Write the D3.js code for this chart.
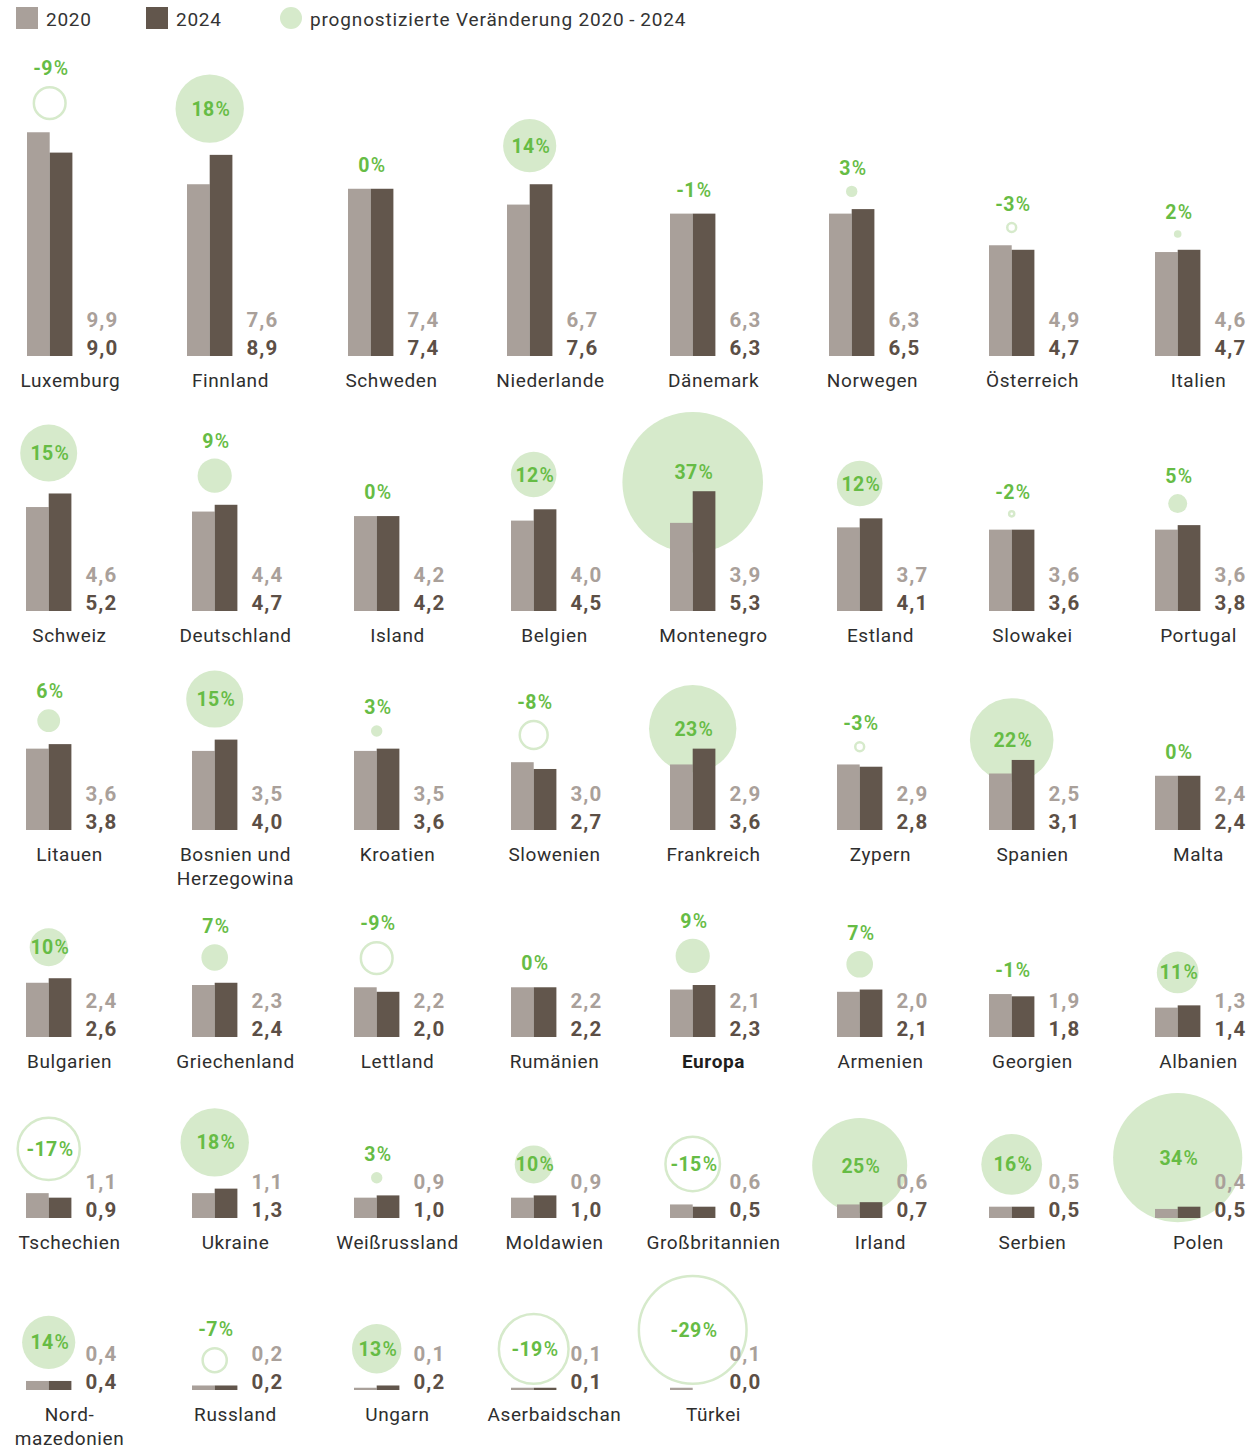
<!DOCTYPE html>
<html>
<head>
<meta charset="utf-8">
<script src="https://cdn.jsdelivr.net/npm/d3@7"></script>
<style>
  body { margin: 0; background: #fff; }
  svg { display: block; font-family: Roboto, "Noto Sans", sans-serif; }
</style>
</head>
<body>
<svg id="chart" width="1249" height="1451"></svg>
<script>
// Countries in reading order, eight per row; "\n" marks a line break in the name
const countries = [
  "Luxemburg", "Finnland", "Schweden", "Niederlande", "Dänemark", "Norwegen", "Österreich", "Italien",
  "Schweiz", "Deutschland", "Island", "Belgien", "Montenegro", "Estland", "Slowakei", "Portugal",
  "Litauen", "Bosnien und\nHerzegowina", "Kroatien", "Slowenien", "Frankreich", "Zypern", "Spanien", "Malta",
  "Bulgarien", "Griechenland", "Lettland", "Rumänien", "Europa", "Armenien", "Georgien", "Albanien",
  "Tschechien", "Ukraine", "Weißrussland", "Moldawien", "Großbritannien", "Irland", "Serbien", "Polen",
  "Nord-\nmazedonien", "Russland", "Ungarn", "Aserbaidschan", "Türkei"
];
const values2020 = [
  9.9, 7.6, 7.4, 6.7, 6.3, 6.3, 4.9, 4.6,
  4.6, 4.4, 4.2, 4.0, 3.9, 3.7, 3.6, 3.6,
  3.6, 3.5, 3.5, 3.0, 2.9, 2.9, 2.5, 2.4,
  2.4, 2.3, 2.2, 2.2, 2.1, 2.0, 1.9, 1.3,
  1.1, 1.1, 0.9, 0.9, 0.6, 0.6, 0.5, 0.4,
  0.4, 0.2, 0.1, 0.1, 0.1
];
const values2024 = [
  9.0, 8.9, 7.4, 7.6, 6.3, 6.5, 4.7, 4.7,
  5.2, 4.7, 4.2, 4.5, 5.3, 4.1, 3.6, 3.8,
  3.8, 4.0, 3.6, 2.7, 3.6, 2.8, 3.1, 2.4,
  2.6, 2.4, 2.0, 2.2, 2.3, 2.1, 1.8, 1.4,
  0.9, 1.3, 1.0, 1.0, 0.5, 0.7, 0.5, 0.5,
  0.4, 0.2, 0.2, 0.1, 0.0
];
// Forecast change 2020-2024 in percent
const changePct = [
  -9, 18, 0, 14, -1, 3, -3, 2,
  15, 9, 0, 12, 37, 12, -2, 5,
  6, 15, 3, -8, 23, -3, 22, 0,
  10, 7, -9, 0, 9, 7, -1, 11,
  -17, 18, 3, 10, -15, 25, 16, 34,
  14, -7, 13, -19, -29
];
const highlighted = ["Europa"];
const seriesNames = ["2020", "2024"];
const legendChangeLabel = "prognostizierte Veränderung 2020\u2009-\u20092024";

// ---- layout ----
const perRow = 8;
const rowBaseline = [356, 611, 830, 1037, 1218, 1390];
const colLeftFirstRow = [27, 187, 348, 507, 670, 829, 989, 1155];
const colLeftOtherRows = [26, 192, 354, 511, 670, 837, 989, 1155];
const barW = 22.7;

const col = {
  light: "#a9a09a",
  dark: "#62564c",
  valueLight: "#a9a09a",
  valueDark: "#5c4f46",
  circle: "#d6eacb",
  green: "#66bc45",
  label: "#2e2e2e"
};

const svg = d3.select("#chart");
const fmt = d3.formatLocale({ decimal: ",", thousands: ".", grouping: [3], currency: ["", "€"] }).format(".1f");

// bar height scale and circle radius scale (radius grows linearly with |change|)
const yLen = d3.scaleLinear().domain([0, 10]).range([0, 226]);
const rScale = d3.scaleLinear().domain([0, 10]).range([0, 19]);

const data = countries.map((name, i) => {
  const row = Math.floor(i / perRow), c = i % perRow;
  return {
    name, row, c,
    v0: values2020[i], v1: values2024[i], pct: changePct[i],
    left: (row === 0 ? colLeftFirstRow : colLeftOtherRows)[c],
    base: rowBaseline[row]
  };
});

// number of label lines per row, used to keep circles clear of the row above
const rowLines = d3.range(rowBaseline.length).map(r =>
  d3.max(data.filter(d => d.row === r), d => d.name.split("\n").length));

data.forEach(d => {
  d.top = d.base - yLen(Math.max(d.v0, d.v1));
  d.r = rScale(Math.abs(d.pct));
  d.hasCircle = Math.abs(d.pct) >= 2;
  let cy;
  if (d.r > 35) {
    // large circles sit behind the bars, resting just above the baseline
    cy = Math.min(d.top - 20, d.base - d.r - 5);
  } else {
    cy = d.top - d.r - 12;
  }
  if (d.row > 0) {
    const limit = rowBaseline[d.row - 1] + 56 + (rowLines[d.row - 1] - 1) * 24;
    cy = Math.max(cy, limit + d.r);
  }
  d.cy = cy;
  d.cx = d.left + barW;
});

// ---- legend ----
const legend = svg.append("g").attr("class", "legend");
const legendItems = [
  { x: 16, label: seriesNames[0], fill: col.light },
  { x: 146, label: seriesNames[1], fill: col.dark }
];
legend.selectAll("rect").data(legendItems).join("rect")
  .attr("x", d => d.x).attr("y", 7).attr("width", 22).attr("height", 22)
  .attr("fill", d => d.fill);
legend.selectAll("text.s").data(legendItems).join("text").attr("class", "s")
  .attr("x", d => d.x + 30).attr("y", 26)
  .attr("font-size", 19).attr("letter-spacing", 0.7).attr("fill", "#333").text(d => d.label);
legend.append("circle").attr("cx", 291).attr("cy", 18).attr("r", 11).attr("fill", col.circle);
legend.append("text").attr("x", 310).attr("y", 26).attr("font-size", 19).attr("letter-spacing", 0.85)
  .attr("fill", "#333").text(legendChangeLabel);

// ---- cells ----
const cells = svg.append("g").selectAll("g.cell").data(data).join("g").attr("class", "cell");

// change circles (behind the bars)
cells.filter(d => d.hasCircle).append("circle")
  .attr("cx", d => d.cx).attr("cy", d => d.cy).attr("r", d => d.pct > 0 ? d.r : d.r - 1.25)
  .attr("fill", d => d.pct > 0 ? col.circle : "none")
  .attr("stroke", d => d.pct > 0 ? "none" : col.circle)
  .attr("stroke-width", 2.5);

// bars 2020 / 2024
cells.append("rect")
  .attr("x", d => d.left).attr("width", barW)
  .attr("y", d => d.base - yLen(d.v0)).attr("height", d => yLen(d.v0))
  .attr("fill", col.light);
cells.append("rect")
  .attr("x", d => d.left + barW).attr("width", barW)
  .attr("y", d => d.base - yLen(d.v1)).attr("height", d => yLen(d.v1))
  .attr("fill", col.dark);

// value labels
cells.append("text")
  .attr("x", d => d.left + 2 * barW + 14).attr("y", d => d.base - 29)
  .attr("font-size", 20.5).attr("font-weight", 700).attr("letter-spacing", 1.2)
  .attr("fill", col.valueLight).text(d => fmt(d.v0));
cells.append("text")
  .attr("x", d => d.left + 2 * barW + 14).attr("y", d => d.base - 1)
  .attr("font-size", 20.5).attr("font-weight", 700).attr("letter-spacing", 1.2)
  .attr("fill", col.valueDark).text(d => fmt(d.v1));

// change percentages: inside big circles (kept clear of the bars), above small ones
const pctText = cells.append("text")
  .attr("x", d => d.cx + 1)
  .attr("y", d => {
    if (Math.abs(d.pct) >= 10) return Math.min(d.cy, d.top - 19);
    if (d.hasCircle) return d.cy - d.r - 11;
    return d.top - 17;
  })
  .attr("dy", d => Math.abs(d.pct) >= 10 ? "0.36em" : 0)
  .attr("text-anchor", "middle")
  .attr("font-size", 19.5).attr("fill", col.green);
pctText.append("tspan").attr("font-weight", 700).attr("letter-spacing", 0.4).text(d => (d.pct < 0 ? "-" : "") + Math.abs(d.pct));
pctText.append("tspan").attr("font-weight", 500).attr("dx", 1).text("%");

// country names
cells.each(function (d) {
  const isHi = highlighted.includes(d.name);
  const t = d3.select(this).append("text")
    .attr("x", d.left + 43.5).attr("y", d.base + 31)
    .attr("text-anchor", "middle").attr("font-size", 19).attr("letter-spacing", 0.6)
    .attr("font-weight", isHi ? 700 : 400)
    .attr("fill", isHi ? "#1e1e1e" : col.label);
  d.name.split("\n").forEach((line, k) => {
    t.append("tspan").attr("x", d.left + 43.5).attr("dy", k === 0 ? 0 : 24).text(line);
  });
});
</script>
</body>
</html>
